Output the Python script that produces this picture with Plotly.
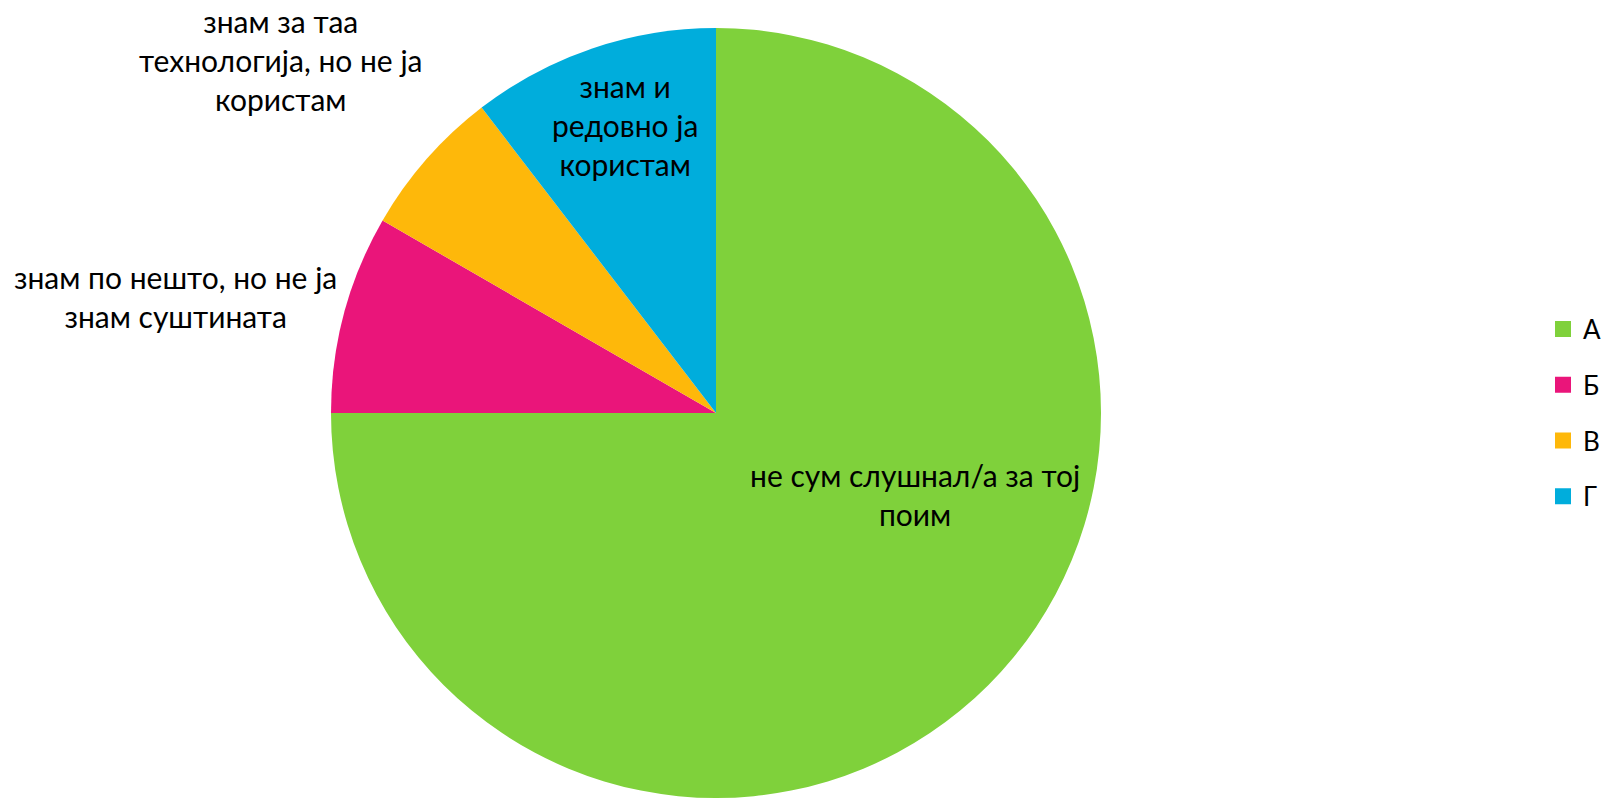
import plotly.graph_objects as go

categories = ["А", "Б", "В", "Г"]
values = [36, 4, 3, 5]
slice_labels = [
    "не сум слушнал/а за тој<br>поим",
    "знам по нешто, но не ја<br>знам суштината",
    "знам за таа<br>технологија, но не ја<br>користам",
    "знам и<br>редовно ја<br>користам",
]
colors = ["#7FD13B", "#EA157A", "#FEB80A", "#00ADDC"]

W, H = 1610, 798
FONT = "Lato, 'Open Sans', sans-serif"

fig = go.Figure()
fig.add_trace(go.Pie(
    labels=categories, values=values, sort=False, direction="clockwise",
    rotation=0, marker=dict(colors=colors, line=dict(width=0)),
    textinfo="none", hoverinfo="label+value+percent", showlegend=False,
    domain=dict(x=[331 / W, 1101 / W], y=[0.0, 770 / H]),
))

# legend entries
for i, (c, col) in enumerate(zip(categories, colors)):
    fig.add_trace(go.Scatter(
        x=[None], y=[None], mode="markers", name=c, legendgroup=c,
        marker=dict(symbol="square", size=16, color=col),
        showlegend=True,
    ))

# label positions (pixel centres)
label_pos = [(915, 494), (175, 296), (281, 60), (625, 125)]
annotations = []
for txt, (px, py) in zip(slice_labels, label_pos):
    annotations.append(dict(
        x=px / W, y=1 - py / H, xref="paper", yref="paper",
        text=txt, showarrow=False, xanchor="center", yanchor="middle",
        align="center", font=dict(family=FONT, size=30, color="#000000"),
    ))

fig.update_layout(
    width=W, height=H,
    margin=dict(l=0, r=0, t=0, b=0),
    paper_bgcolor="white", plot_bgcolor="white",
    xaxis=dict(visible=False), yaxis=dict(visible=False),
    annotations=annotations,
    legend=dict(
        x=1543 / W, y=1 - 413 / H, xanchor="left", yanchor="middle",
        font=dict(family=FONT, size=26, color="#000000"),
        tracegroupgap=19, itemclick=False, itemdoubleclick=False,
        bgcolor="rgba(0,0,0,0)",
    ),
)

fig.write_html(
    "out.html",
    config={"displayModeBar": False},
    post_script="document.body.style.margin='0';document.body.style.overflow='hidden';",
)
